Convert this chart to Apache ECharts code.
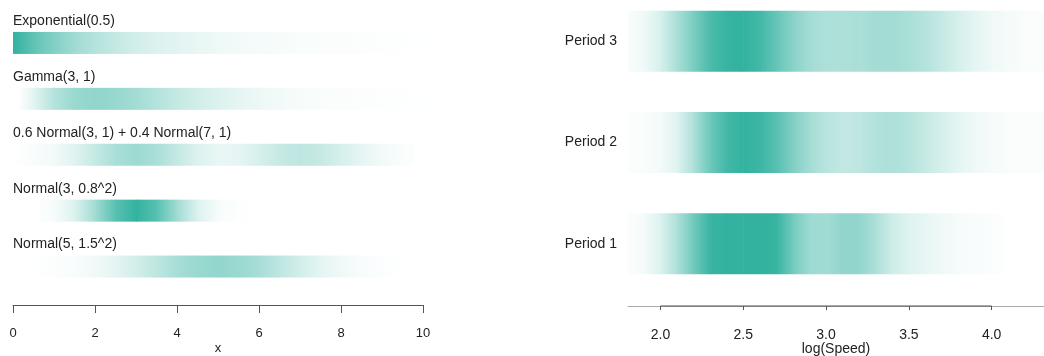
<!DOCTYPE html>
<html>
<head>
<meta charset="utf-8">
<script src="https://cdn.jsdelivr.net/npm/echarts@6/dist/echarts.min.js"></script>
<style>
  html, body { margin: 0; padding: 0; background: #ffffff; }
  #chart { width: 1044px; height: 356px; }
</style>
</head>
<body>
<div id="chart"></div>
<script>
// ---- Left panel: density strips of reference distributions (shade = relative density) ----
const distLabels = ['Exponential(0.5)', 'Gamma(3, 1)', '0.6 Normal(3, 1) + 0.4 Normal(7, 1)',
                    'Normal(3, 0.8^2)', 'Normal(5, 1.5^2)'];

const expX = [0, 0.5, 1, 1.5, 2, 2.5, 3, 3.5, 4, 5, 6, 7, 8, 9, 10.3];
const expT = [1.0, 0.78, 0.61, 0.47, 0.37, 0.29, 0.22, 0.17, 0.14, 0.08, 0.05, 0.03, 0.02, 0.01, 0.005];

const gammaX = [0.15, 0.5, 1, 1.5, 2, 2.5, 3, 3.5, 4, 4.5, 5, 6, 7, 8, 9, 10.3];
const gammaT = [0.01, 0.14, 0.37, 0.5, 0.54, 0.51, 0.45, 0.37, 0.29, 0.22, 0.17, 0.09, 0.04, 0.02, 0.01, 0.003];

const mixX = [0.1, 1, 1.5, 2, 2.5, 3, 3.5, 4, 4.5, 5, 5.5, 6, 6.5, 7, 7.5, 8, 8.5, 9, 9.5, 9.8];
const mixT = [0.007, 0.065, 0.155, 0.29, 0.42, 0.48, 0.42, 0.29, 0.17, 0.11, 0.125, 0.2, 0.28, 0.32, 0.28, 0.2, 0.125, 0.065, 0.028, 0.013];

const narrowX = [0.65, 1, 1.5, 2, 2.5, 3, 3.5, 4, 4.5, 5, 5.5, 6, 9.8];
const narrowT = [0.013, 0.044, 0.17, 0.46, 0.82, 1.0, 0.82, 0.46, 0.17, 0.044, 0.008, 0.002, 0.0];

const wideX = [0.5, 1, 1.5, 2, 2.5, 3, 3.5, 4, 4.5, 5, 5.5, 6, 6.5, 7, 7.5, 8, 8.5, 9, 9.5, 10.2];
const wideT = [0.006, 0.015, 0.035, 0.072, 0.13, 0.22, 0.32, 0.43, 0.5, 0.53, 0.5, 0.43, 0.32, 0.22, 0.13, 0.072, 0.035, 0.015, 0.006, 0.002];

const xTicks = [0, 2, 4, 6, 8, 10];

// ---- Right panel: log(Speed) density strips by period ----
const periodNames = ['Period 1', 'Period 2', 'Period 3'];
const speedX = [1.804, 1.9, 2.0, 2.1, 2.2, 2.3, 2.4, 2.5, 2.6, 2.7, 2.8, 2.9, 3.0,
                3.1, 3.2, 3.3, 3.4, 3.5, 3.6, 3.7, 3.8, 3.9, 4.0, 4.1, 4.2, 4.316];
const period3T = [0.03, 0.08, 0.2, 0.42, 0.65, 0.88, 0.98, 1.0, 0.92, 0.75, 0.58, 0.45, 0.4,
                  0.4, 0.42, 0.45, 0.45, 0.42, 0.36, 0.28, 0.2, 0.13, 0.08, 0.05, 0.03, 0.02];
const period2T = [0.02, 0.03, 0.06, 0.15, 0.4, 0.72, 0.92, 1.0, 0.95, 0.82, 0.62, 0.45, 0.35,
                  0.3, 0.32, 0.38, 0.4, 0.36, 0.28, 0.2, 0.13, 0.08, 0.05, 0.03, 0.02, 0.02];
const period1X = [1.804, 1.9, 2.0, 2.1, 2.2, 2.3, 2.4, 2.5, 2.6, 2.7, 2.8, 2.9, 3.0,
                  3.1, 3.2, 3.3, 3.4, 3.5, 3.6, 3.7, 3.8, 3.9, 4.0, 4.07];
const period1T = [0.02, 0.05, 0.17, 0.4, 0.7, 0.97, 1.0, 1.0, 1.0, 0.98, 0.68, 0.48, 0.46,
                  0.54, 0.54, 0.4, 0.24, 0.16, 0.12, 0.08, 0.05, 0.035, 0.02, 0.01];
const speedTicks = [2.0, 2.5, 3.0, 3.5, 4.0];

// ---- helpers ----
const TEAL = [51, 178, 160];
function shade(t) {
  t = Math.max(0, Math.min(1, t));
  const c = TEAL.map(v => Math.round(255 - t * (255 - v)));
  return 'rgb(' + c.join(',') + ')';
}
function segments(xs, ts, row) {
  const out = [];
  for (let i = 0; i < xs.length - 1; i++) out.push([xs[i], xs[i + 1], ts[i], ts[i + 1], row]);
  return out;
}
function stripRenderer(bandUnits) {
  return function (params, api) {
    const row = api.value(4);
    const p0 = api.coord([api.value(0), row]);
    const p1 = api.coord([api.value(1), row]);
    const h = Math.abs(api.size([0, bandUnits])[1]);
    return {
      type: 'rect',
      shape: { x: p0[0], y: p0[1] - h / 2, width: p1[0] - p0[0] + 0.6, height: h },
      style: {
        fill: new echarts.graphic.LinearGradient(0, 0, 1, 0, [
          { offset: 0, color: shade(api.value(2)) },
          { offset: 1, color: shade(api.value(3)) }
        ])
      }
    };
  };
}

const FONT = '"Liberation Sans", Arial, Helvetica, sans-serif';
const TXT = '#222222';

const leftStrips = [[expX, expT], [gammaX, gammaT], [mixX, mixT], [narrowX, narrowT], [wideX, wideT]];
let leftData = [];
leftStrips.forEach((s, i) => { leftData = leftData.concat(segments(s[0], s[1], i + 0.5)); });

let rightData = [];
rightData = rightData.concat(segments(period1X, period1T, 1));
rightData = rightData.concat(segments(speedX, period2T, 2));
rightData = rightData.concat(segments(speedX, period3T, 3));

const LEFT_BAND = 0.3936;   // strip height in row units
const RIGHT_BAND = 0.602;
const RIGHT_YMIN = 0.386, RIGHT_YMAX = 3.407;

const chart = echarts.init(document.getElementById('chart'), null, { renderer: 'canvas' });
chart.setOption({
  animation: false,
  backgroundColor: '#ffffff',
  textStyle: { fontFamily: FONT },
  grid: [
    { left: 13, width: 410, top: 15, bottom: 61.5, outerBoundsMode: 'none', containLabel: false },
    { left: 628, right: 0, top: 0, bottom: 50, outerBoundsMode: 'none', containLabel: false }
  ],
  xAxis: [
    {
      gridIndex: 0, type: 'value', min: 0, max: 10, interval: 2, offset: 10.5, position: 'bottom',
      name: 'x', nameLocation: 'middle', nameGap: 37, nameMoveOverlap: false,
      nameTextStyle: { color: TXT, fontSize: 13, fontFamily: FONT },
      axisLine: { onZero: false, lineStyle: { color: '#555555', width: 1 } },
      axisTick: { length: 8, lineStyle: { color: '#555555' }, customValues: xTicks },
      axisLabel: { color: TXT, fontSize: 13, margin: 22, fontFamily: FONT, customValues: xTicks },
      splitLine: { show: false }
    },
    {
      gridIndex: 1, type: 'value', min: 1.804, max: 4.316, position: 'bottom',
      name: 'log(Speed)', nameLocation: 'middle', nameGap: 36, nameMoveOverlap: false,
      nameTextStyle: { color: TXT, fontSize: 14, fontFamily: FONT },
      axisLine: { onZero: false, lineStyle: { color: '#aaaaaa', width: 1 } },
      axisTick: { length: 4, lineStyle: { color: '#555555' }, customValues: speedTicks },
      axisLabel: {
        color: TXT, fontSize: 14, margin: 22, fontFamily: FONT, customValues: speedTicks,
        formatter: v => Number(v).toFixed(1)
      },
      splitLine: { show: false }
    }
  ],
  yAxis: [
    { gridIndex: 0, type: 'value', min: 0, max: 5, inverse: true, show: false },
    {
      gridIndex: 1, type: 'value', min: RIGHT_YMIN, max: RIGHT_YMAX,
      axisLine: { show: false }, axisTick: { show: false }, splitLine: { show: false },
      axisLabel: {
        color: TXT, fontSize: 14, margin: 11, fontFamily: FONT, customValues: [1, 2, 3],
        formatter: v => periodNames[Math.round(v) - 1]
      }
    }
  ],
  series: [
    {
      type: 'custom', xAxisIndex: 0, yAxisIndex: 0,
      renderItem: stripRenderer(LEFT_BAND), encode: { x: [0, 1], y: 4 }, data: leftData
    },
    {
      // strip titles, left-aligned above each strip
      type: 'custom', xAxisIndex: 0, yAxisIndex: 0,
      data: distLabels.map((t, i) => [0, i + 0.5, t]),
      encode: { x: 0, y: 1 },
      renderItem: function (params, api) {
        const p = api.coord([api.value(0), api.value(1)]);
        const h = Math.abs(api.size([0, LEFT_BAND])[1]);
        return {
          type: 'text',
          style: {
            x: p[0], y: p[1] - h / 2 - 11, text: distLabels[params.dataIndex],
            fill: TXT, font: '14px ' + FONT, textAlign: 'left', textVerticalAlign: 'middle'
          }
        };
      }
    },
    {
      type: 'custom', xAxisIndex: 1, yAxisIndex: 1,
      renderItem: stripRenderer(RIGHT_BAND), encode: { x: [0, 1], y: 4 }, data: rightData
    },
    {
      // darker axis segment between the outer ticks
      type: 'line', xAxisIndex: 1, yAxisIndex: 1, showSymbol: false, silent: true, clip: false,
      data: [[speedTicks[0], RIGHT_YMIN], [speedTicks[speedTicks.length - 1], RIGHT_YMIN]],
      lineStyle: { color: '#555555', width: 1.2 }
    }
  ]
});
</script>
</body>
</html>
